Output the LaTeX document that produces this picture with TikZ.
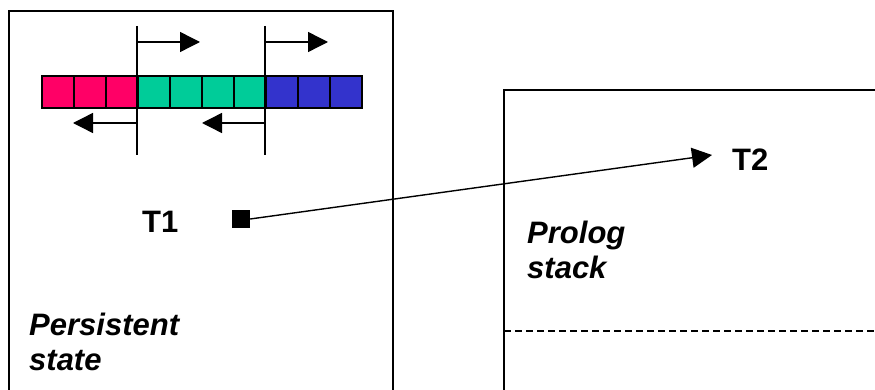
\documentclass[tikz,border=0pt]{standalone}
\usepackage{fontspec}
\setmainfont{Liberation Sans}
\usetikzlibrary{arrows.meta}
\definecolor{cellpink}{HTML}{FF0066}
\definecolor{cellgreen}{HTML}{00CC99}
\definecolor{cellblue}{HTML}{3333CC}
\begin{document}
\begin{tikzpicture}[x=1pt,y=-1pt,
  frame/.style={line width=1.6pt},
  cell/.style={draw=black, line width=1.6pt, minimum size=32pt, inner sep=0pt, anchor=north west},
  divider/.style={line width=1.6pt},
  move/.style={line width=1.4pt, -{Triangle[length=20pt,width=20pt]}},
  area/.style={font=\fontsize{31}{35}\selectfont\bfseries\itshape, align=left, inner sep=0pt, anchor=north west},
  tname/.style={font=\fontsize{31}{35}\selectfont\bfseries, inner sep=0pt, anchor=base west},
]
\useasboundingbox (0,0) rectangle (875,390);
\clip (0,0) rectangle (875,390);

% the two memory areas
\draw[frame] (9,11) rectangle (393,420);
\draw[frame] (504,90) rectangle (900,420);
\draw[line width=1.2pt, dash pattern=on 7pt off 4pt] (504,331) -- (875,331);

% cell strip: three pink, four green, three blue
\foreach \i/\c in {0/cellpink,1/cellpink,2/cellpink,3/cellgreen,4/cellgreen,5/cellgreen,6/cellgreen,7/cellblue,8/cellblue,9/cellblue}
  \node[cell, fill=\c] (c\i) at (41+32*\i,75) {};

% region boundaries with their growth directions
\coordinate (b1top) at (137,26);
\coordinate (b1bot) at (137,155);
\coordinate (b2top) at (265,26);
\coordinate (b2bot) at (265,155);
\draw[divider] (b1top) -- (b1bot);
\draw[divider] (b2top) -- (b2bot);
\coordinate (b1r) at (137,42);
\coordinate (b1rend) at (200,42);
\coordinate (b2r) at (265,42);
\coordinate (b2rend) at (328,42);
\coordinate (b1l) at (137,123);
\coordinate (b1lend) at (73,123);
\coordinate (b2l) at (265,123);
\coordinate (b2lend) at (202,123);
\draw[move] (b1r) -- (b1rend);
\draw[move] (b2r) -- (b2rend);
\draw[move] (b1l) -- (b1lend);
\draw[move] (b2l) -- (b2lend);

% terms and the reference between them
\node[tname] (t1) at (142,232) {T1};
\node[fill=black, minimum size=18pt, inner sep=0pt] (src) at (241,219) {};
\node[tname] (t2) at (732,171) {T2};
\coordinate (t2in) at (712,155);
\draw[move] (src.east) -- (t2in);

% area captions
\node[area] (ps) at (29,313) {Persistent\\state};
\node[area] (pl) at (527,221) {Prolog\\stack};
\end{tikzpicture}
\end{document}
